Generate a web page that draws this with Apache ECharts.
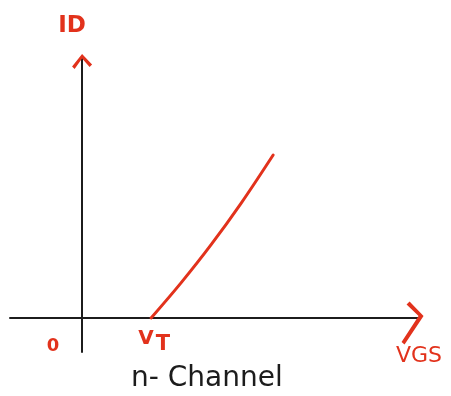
<!DOCTYPE html>
<html>
<head>
<meta charset="utf-8">
<script src="https://cdn.jsdelivr.net/npm/echarts@6/dist/echarts.min.js"></script>
<style>
  html, body { margin: 0; padding: 0; background: #ffffff; }
  #chart { width: 451px; height: 396px; }
</style>
</head>
<body>
<div id="chart"></div>
<script>
// Transfer characteristic of an n-channel enhancement MOSFET
const vgs = [2.03, 2.91, 3.79, 4.68, 5.62];
const idCurrent = [0, 1.35, 2.81, 4.42, 6.27];

// Marked points on the VGS axis and their labels
const tickValues = [0, 2];
const tickLabels = ['0', 'VT'];

const axisNames = { x: 'VGS', y: 'ID' };
const caption = 'n- Channel';

const RED = '#e2321c';
const INK = '#1c1c1c';
const FONT = '"DejaVu Sans", sans-serif';

const chart = echarts.init(document.getElementById('chart'));

chart.setOption({
  backgroundColor: '#ffffff',
  animation: false,
  title: {
    text: caption,
    left: 126,
    top: 360,
    textStyle: { color: INK, fontSize: 28, fontWeight: 'normal', fontFamily: FONT }
  },
  grid: { left: 10, right: 33, top: 58, bottom: 44 },
  xAxis: {
    type: 'value',
    min: -2.12,
    max: 9.88,
    name: axisNames.x,
    nameLocation: 'end',
    nameGap: 1,
    nameTextStyle: {
      color: RED, fontSize: 22, fontFamily: FONT,
      align: 'center', verticalAlign: 'top', padding: [27, 0, 0, 0]
    },
    axisLine: { onZero: true, lineStyle: { color: INK, width: 2 } },
    axisTick: { show: false },
    axisLabel: { show: false },
    splitLine: { show: false }
  },
  yAxis: {
    type: 'value',
    min: -1.31,
    max: 10,
    name: axisNames.y,
    nameLocation: 'end',
    nameGap: 20,
    nameTextStyle: {
      color: RED, fontSize: 23, fontWeight: 'bold', fontFamily: FONT,
      padding: [0, 20, 0, 0]
    },
    axisLine: { onZero: true, lineStyle: { color: INK, width: 2 } },
    axisTick: { show: false },
    axisLabel: { show: false },
    splitLine: { show: false }
  },
  series: [
    {
      name: 'ID',
      type: 'line',
      data: vgs.map((v, i) => [v, idCurrent[i]]),
      smooth: 0.35,
      showSymbol: false,
      lineStyle: { color: RED, width: 3, cap: 'round' },
      z: 3
    },
    {
      // labels of the marked points under the VGS axis
      name: 'ticks',
      type: 'scatter',
      clip: false,
      silent: true,
      symbolSize: 0,
      itemStyle: { opacity: 1 },
      data: [
        {
          value: [tickValues[0], 0],
          label: { position: [-29, 28], formatter: tickLabels[0] }
        },
        {
          value: [tickValues[1], 0],
          label: {
            position: [4, 24],
            formatter: '{v|' + tickLabels[1].charAt(0) + '}{t|' + tickLabels[1].slice(1) + '}'
          }
        }
      ],
      label: {
        show: true,
        align: 'center',
        verticalAlign: 'middle',
        color: RED,
        fontSize: 18,
        fontWeight: 'bold',
        fontFamily: FONT,
        rich: {
          v: { color: RED, fontSize: 20, fontWeight: 'bold', fontFamily: FONT, verticalAlign: 'top', lineHeight: 26, padding: [0, 2, 0, 0] },
          t: { color: RED, fontSize: 21, fontWeight: 'bold', fontFamily: FONT, verticalAlign: 'bottom', lineHeight: 26 }
        }
      },
      z: 4
    },
    {
      // open arrowheads at the ends of both axes
      name: 'arrows',
      type: 'scatter',
      clip: false,
      silent: true,
      data: [
        {
          value: [0, 9.87],
          symbol: 'path://M0,13 L10,0 L20,11 L17.5,13.5 L10,4.8 L2.5,15.5 Z',
          symbolSize: [20, 15]
        },
        {
          value: [9.72, -0.19],
          symbol: 'path://M4.5,1.5 L7.5,-1.5 L21.5,13 L2.5,41.5 L-0.5,39 L16.5,13 Z',
          symbolSize: [22, 43]
        }
      ],
      itemStyle: { color: RED, opacity: 1 },
      z: 4
    }
  ]
});
</script>
</body>
</html>
